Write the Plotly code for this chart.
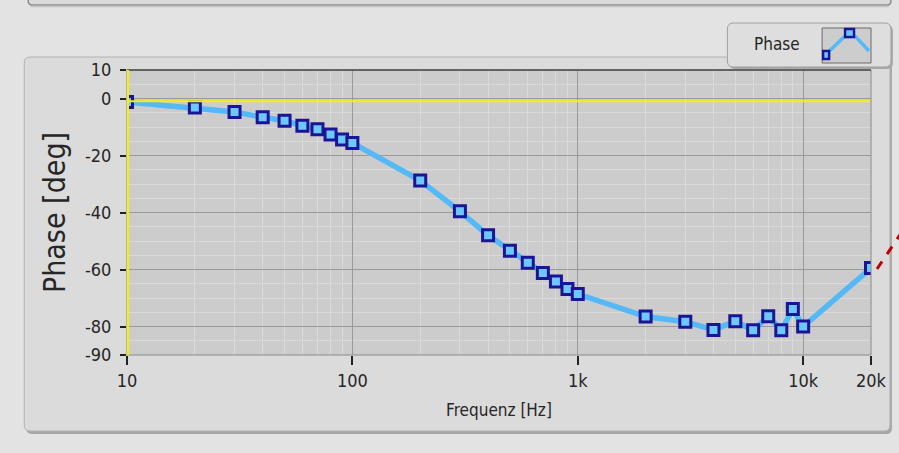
import plotly.graph_objects as go

# ---- data ----
freq = [10, 20, 30, 40, 50, 60, 70, 80, 90, 100,
        200, 300, 400, 500, 600, 700, 800, 900, 1000,
        2000, 3000, 4000, 5000, 6000, 7000, 8000, 9000, 10000, 20000]
phase = [-1.2, -3.2, -4.7, -6.6, -7.8, -9.6, -10.8, -12.6, -14.4, -15.6,
         -28.8, -39.6, -48.0, -53.4, -57.6, -61.2, -64.2, -66.8, -68.6,
         -76.5, -78.3, -81.2, -78.2, -81.3, -76.4, -81.3, -73.9, -80.0, -59.5]
cursor_x = [10, 20000]
cursor_y = [-1, -1]

x_tickvals = [10, 100, 1000, 10000, 20000]
x_ticktext = ["10", "100", "1k", "10k", "20k"]
y_tickvals = [10, 0, -20, -40, -60, -80, -90]
y_ticktext = ["10", "0", "-20", "-40", "-60", "-80", "-90"]
x_minor = [m * 10 ** e for e in range(1, 4) for m in range(2, 10)]

W, H = 899, 453
L, R, T, B = 127, 873, 70, 355


def px(x):
    return (x - L) / (R - L)


def py(y):
    return (B - y) / (B - T)


FONT = "DejaVu Sans Condensed, Liberation Sans Narrow, Liberation Sans, sans-serif"
TXT = "#262626"

fig = go.Figure()

fig.add_trace(go.Scatter(
    x=freq, y=phase, mode="lines+markers", name="Phase",
    line=dict(color="#55b9f7", width=5.5),
    marker=dict(symbol="square", size=11, color="#6cc8ff",
                line=dict(color="#1b1596", width=3)),
    hoverinfo="x+y"))

fig.add_trace(go.Scatter(
    x=cursor_x, y=cursor_y, mode="lines", showlegend=False,
    line=dict(color="#f4f200", width=2), hoverinfo="skip"))


def rrect(x0, y0, x1, y1, r):
    X0, X1 = px(x0), px(x1)
    Y0, Y1 = py(y0), py(y1)
    rx = r / (R - L)
    ry = r / (B - T)
    return (f"M{X0+rx},{Y0} L{X1-rx},{Y0} Q{X1},{Y0} {X1},{Y0-ry} "
            f"L{X1},{Y1+ry} Q{X1},{Y1} {X1-rx},{Y1} L{X0+rx},{Y1} "
            f"Q{X0},{Y1} {X0},{Y1+ry} L{X0},{Y0-ry} Q{X0},{Y0} {X0+rx},{Y0} Z")


shapes = []
# bottom edge of the panel above (shadowed strip)
shapes.append(dict(type="path", xref="paper", yref="paper", layer="below",
                   path=rrect(28, -10, 893, 5, 4),
                   fillcolor="#dadada", line=dict(color="#8c8c8c", width=1.5)))
shapes.append(dict(type="line", xref="paper", yref="paper", layer="below",
                   x0=px(30), x1=px(891), y0=py(6.5), y1=py(6.5),
                   line=dict(color="#c4c4c4", width=1.5)))
# panel shadow
shapes.append(dict(type="path", xref="paper", yref="paper", layer="below",
                   path=rrect(26, 59, 894, 434, 6),
                   fillcolor="#a6a6a6", line=dict(width=0)))
# panel
shapes.append(dict(type="path", xref="paper", yref="paper", layer="below",
                   path=rrect(24, 57, 892, 431, 6),
                   fillcolor="#dbdbdb", line=dict(color="#b2b2b2", width=1)))
# plot area
shapes.append(dict(type="rect", xref="paper", yref="paper", layer="below",
                   x0=0, x1=1, y0=0, y1=1,
                   fillcolor="#cccccc", line=dict(width=0)))
# plot border
shapes.append(dict(type="rect", xref="paper", yref="paper", layer="above",
                   x0=0, x1=1, y0=0, y1=1,
                   fillcolor="rgba(0,0,0,0)", line=dict(color="#8a8a8a", width=1)))
shapes.append(dict(type="line", xref="paper", yref="paper", layer="above",
                   x0=0, x1=1, y0=1, y1=1, line=dict(color="#4a4a4a", width=1.5)))
# yellow vertical cursor at left edge
shapes.append(dict(type="line", xref="paper", yref="paper", layer="above",
                   x0=px(128), x1=px(128), y0=0, y1=1,
                   line=dict(color="#f4f200", width=2)))
# legend box
shapes.append(dict(type="path", xref="paper", yref="paper", layer="above",
                   path=rrect(731, 25, 895, 69, 6),
                   fillcolor="#a9a9a9", line=dict(width=0)))
shapes.append(dict(type="path", xref="paper", yref="paper", layer="above",
                   path=rrect(729, 23, 893, 67, 6),
                   fillcolor="#dedede", line=dict(color="#a0a0a0", width=1)))
shapes.append(dict(type="rect", xref="paper", yref="paper", layer="above",
                   x0=px(824), x1=px(873), y0=py(28), y1=py(63),
                   fillcolor="#cdcdcd", line=dict(color="#6a6a6a", width=1)))
# legend icon line + markers
shapes.append(dict(type="path", xref="paper", yref="paper", layer="above",
                   path=f"M{px(827)},{py(55)} L{px(846)},{py(37)} L{px(857)},{py(36)} L{px(871)},{py(51)}",
                   line=dict(color="#55b9f7", width=3.5)))
shapes.append(dict(type="rect", xref="paper", yref="paper", layer="above",
                   x0=px(825), x1=px(831), y0=py(51), y1=py(59),
                   fillcolor="#6cc8ff", line=dict(color="#1b1596", width=2.4)))
shapes.append(dict(type="rect", xref="paper", yref="paper", layer="above",
                   x0=px(847), x1=px(856), y0=py(29), y1=py(37),
                   fillcolor="#6cc8ff", line=dict(color="#1b1596", width=2.4)))
# red dashed arrow fragment at the right edge
shapes.append(dict(type="line", xref="paper", yref="paper", layer="above",
                   x0=px(879), x1=px(906), y0=py(269), y1=py(229),
                   line=dict(color="#c00000", width=3, dash="dash")))

annotations = [
    dict(text="Phase", xref="paper", yref="paper", x=px(779), y=py(44),
         showarrow=False, font=dict(family=FONT, size=17, color=TXT),
         xanchor="center", yanchor="middle"),
]

fig.update_layout(
    width=W, height=H,
    margin=dict(l=L, r=W - R, t=T, b=H - B),
    paper_bgcolor="#e3e3e3",
    plot_bgcolor="rgba(0,0,0,0)",
    showlegend=False,
    shapes=shapes,
    annotations=annotations,
    font=dict(family=FONT, color=TXT, size=16),
    xaxis=dict(
        type="log", range=[1, 4.30103],
        tickmode="array", tickvals=x_tickvals, ticktext=x_ticktext,
        ticks="outside", ticklen=9, tickwidth=1.5, tickcolor="#222",
        showgrid=True, gridcolor="#9a9a9a", gridwidth=1.2,
        minor=dict(tickmode="array", tickvals=x_minor, showgrid=True,
                   gridcolor="#dadada", gridwidth=1, ticks=""),
        zeroline=False, showline=False,
        tickfont=dict(family=FONT, size=18, color=TXT),
        title=dict(text="Frequenz [Hz]", font=dict(family=FONT, size=17, color=TXT),
                   standoff=14),
    ),
    yaxis=dict(
        range=[-90, 10],
        tickmode="array", tickvals=y_tickvals, ticktext=y_ticktext,
        ticks="outside", ticklen=6, tickwidth=1.5, tickcolor="#222",
        ticklabelstandoff=5,
        showgrid=True, gridcolor="#9a9a9a", gridwidth=1.2,
        minor=dict(tick0=0, dtick=5, showgrid=True, gridcolor="#dadada",
                   gridwidth=1, ticks=""),
        zeroline=False, showline=False,
        tickfont=dict(family=FONT, size=18, color=TXT),
        title=dict(text="Phase [deg]", font=dict(family=FONT, size=30, color=TXT),
                   standoff=10),
    ),
)

fig.write_html(
    "out.html",
    config={"displayModeBar": False},
    post_script="document.body.style.margin='0';document.body.style.background='#e3e3e3';",
)
